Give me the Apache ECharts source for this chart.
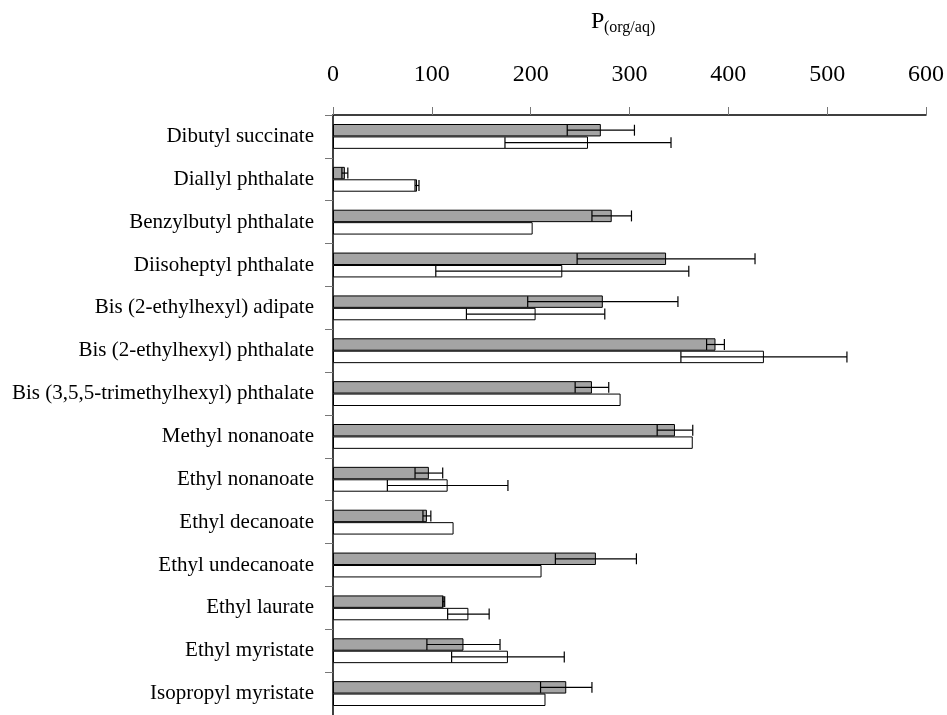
<!DOCTYPE html>
<html>
<head>
<meta charset="utf-8">
<script src="https://cdn.jsdelivr.net/npm/echarts@6/dist/echarts.min.js"></script>
<style>
html,body{margin:0;padding:0;background:#fff;}
#chart{width:947px;height:715px;}
</style>
</head>
<body>
<div id="chart"></div>
<script>
const categories = [
  'Dibutyl succinate',
  'Diallyl phthalate',
  'Benzylbutyl phthalate',
  'Diisoheptyl phthalate',
  'Bis (2-ethylhexyl) adipate',
  'Bis (2-ethylhexyl) phthalate',
  'Bis (3,5,5-trimethylhexyl) phthalate',
  'Methyl nonanoate',
  'Ethyl nonanoate',
  'Ethyl decanoate',
  'Ethyl undecanoate',
  'Ethyl laurate',
  'Ethyl myristate',
  'Isopropyl myristate'
];
const greyValues = [271, 12, 282, 337, 273, 387, 262, 346, 97, 95, 266, 112, 132, 236];
const greyErrors = [34, 3, 20, 90, 76, 9, 17, 18, 14, 4, 41, 1, 37, 26];
const whiteValues = [258, 85, 202, 232, 205, 436, 291, 364, 116, 122, 211, 137, 177, 215];
const whiteErrors = [84, 2, null, 128, 70, 84, null, null, 61, null, null, 21, 57, null];
const xTicks = [0, 100, 200, 300, 400, 500, 600];

const FONT = '"Liberation Serif", "DejaVu Serif", serif';
const BAR_FRAC = 0.29;

function errData(values, errors, side) {
  const out = [];
  values.forEach((v, i) => {
    const e = errors[i];
    if (e !== null && e !== undefined) out.push([i, v - e, v + e, side]);
  });
  return out;
}

function renderErr(params, api) {
  const cat = api.value(0);
  const lo = api.value(1), hi = api.value(2), side = api.value(3);
  const p1 = api.coord([lo, cat]);
  const p2 = api.coord([hi, cat]);
  const bandH = api.size([0, 1])[1];
  const bw = bandH * BAR_FRAC;
  const y = p1[1] + side * bw / 2;
  const cap = bw * 0.44;
  const st = {stroke: '#000', lineWidth: 1.2};
  return {
    type: 'group',
    children: [
      {type: 'line', shape: {x1: p1[0], y1: y, x2: p2[0], y2: y}, style: st},
      {type: 'line', shape: {x1: p1[0], y1: y - cap, x2: p1[0], y2: y + cap}, style: st},
      {type: 'line', shape: {x1: p2[0], y1: y - cap, x2: p2[0], y2: y + cap}, style: st}
    ]
  };
}

const chart = echarts.init(document.getElementById('chart'), null, {renderer: 'canvas'});
chart.setOption({
  backgroundColor: '#fff',
  animation: false,
  title: [
    {text: 'P', left: 591, top: 10, padding: 0,
     textStyle: {fontFamily: FONT, fontSize: 24, fontWeight: 'normal', color: '#000'}},
    {text: '(org/aq)', left: 604, top: 20, padding: 0,
     textStyle: {fontFamily: FONT, fontSize: 16, fontWeight: 'normal', color: '#000'}}
  ],
  grid: {left: 333, top: 115, width: 595, height: 605, containLabel: false},
  xAxis: {
    type: 'value',
    position: 'top',
    min: xTicks[0],
    max: xTicks[xTicks.length - 1],
    interval: 100,
    splitLine: {show: false},
    axisLine: {show: true, lineStyle: {color: '#000', width: 1.5}},
    axisTick: {show: true, inside: false, length: 8, lineStyle: {color: '#777', width: 1}},
    axisLabel: {margin: 28, fontFamily: FONT, fontSize: 24, color: '#000'}
  },
  yAxis: {
    type: 'category',
    data: categories,
    inverse: true,
    axisLine: {show: true, lineStyle: {color: '#000', width: 1.5}},
    axisTick: {show: true, length: 8, interval: 0, lineStyle: {color: '#777', width: 1}},
    axisLabel: {margin: 19, interval: 0, fontFamily: FONT, fontSize: 21, color: '#000',
                padding: [0, 0, 10, 0]},
    splitLine: {show: false}
  },
  series: [
    {
      name: 'grey', type: 'bar', data: greyValues,
      barWidth: (BAR_FRAC * 100) + '%', barGap: '0%',
      itemStyle: {color: '#a4a4a4', borderColor: '#000', borderWidth: 1}
    },
    {
      name: 'white', type: 'bar', data: whiteValues,
      barWidth: (BAR_FRAC * 100) + '%', barGap: '0%',
      itemStyle: {color: '#fff', borderColor: '#000', borderWidth: 1}
    },
    {
      name: 'greyErr', type: 'custom', renderItem: renderErr,
      encode: {x: [1, 2], y: 0}, data: errData(greyValues, greyErrors, -1), z: 5
    },
    {
      name: 'whiteErr', type: 'custom', renderItem: renderErr,
      encode: {x: [1, 2], y: 0}, data: errData(whiteValues, whiteErrors, 1), z: 5
    }
  ]
});
</script>
</body>
</html>
